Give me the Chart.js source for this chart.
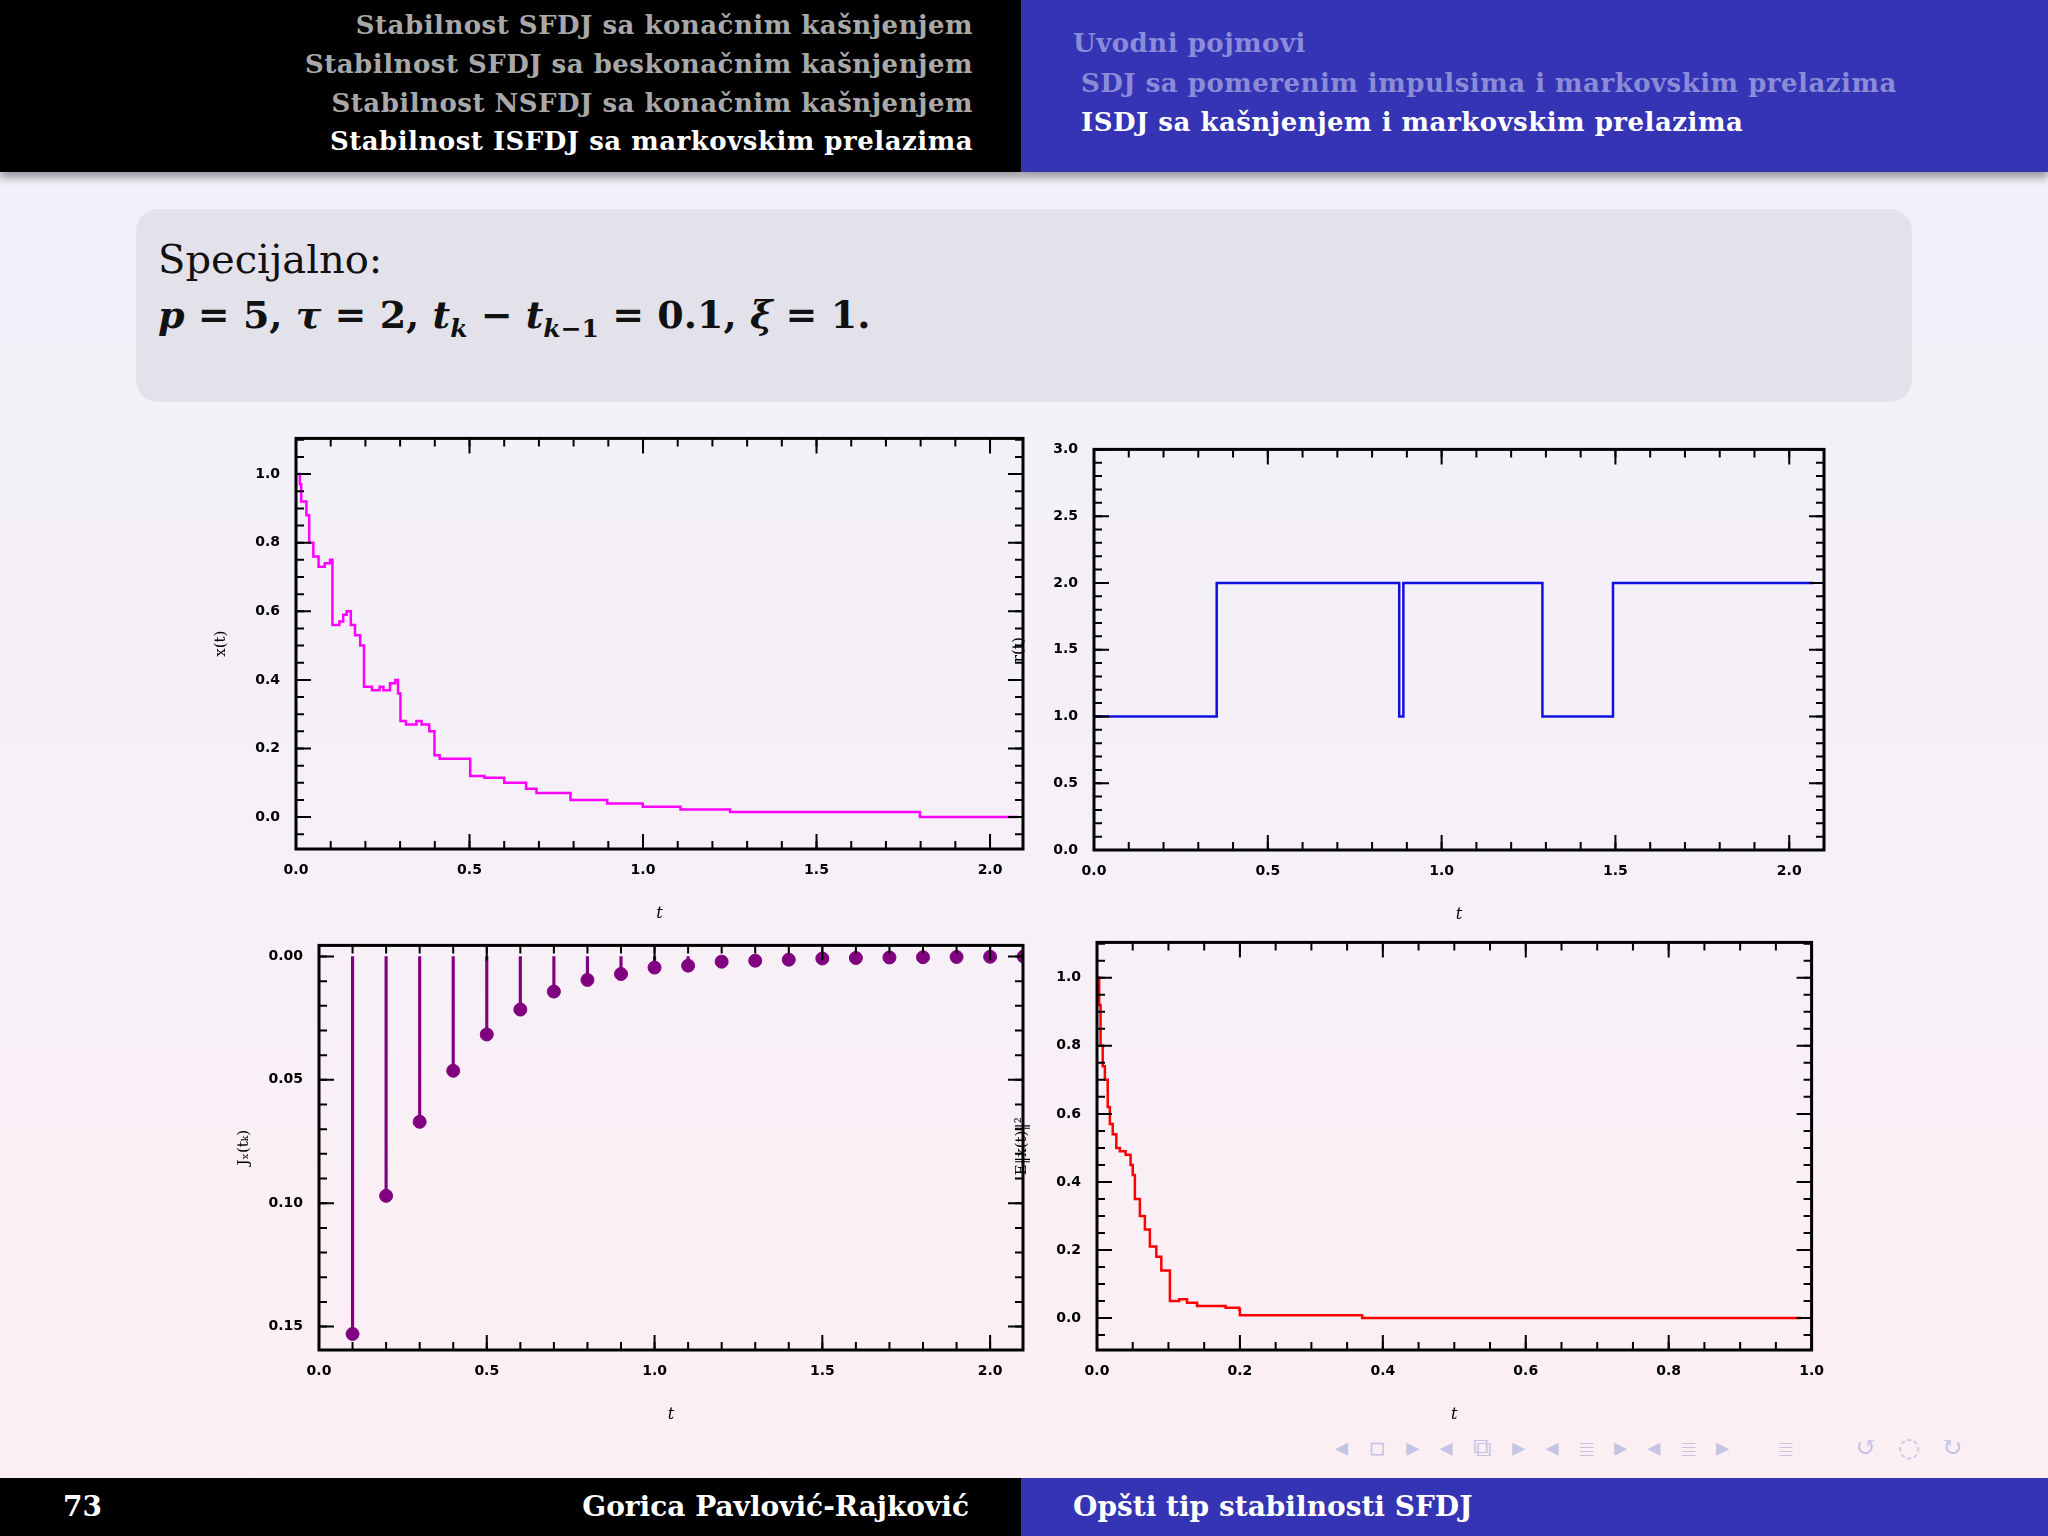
<!DOCTYPE html>
<html>
<head>
<meta charset="utf-8">
<script src="https://cdn.jsdelivr.net/npm/chart.js@4/dist/chart.umd.min.js"></script>
<style>
  html, body { margin: 0; padding: 0; }
  body { width: 2048px; height: 1536px; position: relative; overflow: hidden;
         background: linear-gradient(#f2f0f9, #f6f0f7 60%, #fdeff3); font-family: "DejaVu Serif", serif; }
  .hdr { position: absolute; top: 0; height: 172px; box-shadow: 0 6px 8px rgba(0,0,0,0.35); }
  .hl { left: 0; width: 1021px; background: #000; }
  .hr { left: 1021px; width: 1027px; background: #3434b4; }
  .ht { position: absolute; font-size: 26px; font-weight: bold; white-space: nowrap; letter-spacing: 0.5px; }
  .ftr { position: absolute; top: 1478px; height: 58px; }
  .ft { position: absolute; top: 1490px; font-size: 28px; font-weight: bold; color: #fff; white-space: nowrap; }
  .block { position: absolute; left: 136px; top: 209px; width: 1776px; height: 193px; background: #e3e1ea; border-radius: 22px; }
  .bt { position: absolute; left: 158px; font-size: 40px; color: #111; white-space: nowrap; }
  canvas { position: absolute; }
</style>
</head>
<body>
<div class="hdr hl"></div>
<div class="hdr hr"></div>
<div class="ht" style="right:1075px;top:10px;color:#a8a8a8">Stabilnost SFDJ sa konačnim kašnjenjem</div>
<div class="ht" style="right:1075px;top:49px;color:#a8a8a8">Stabilnost SFDJ sa beskonačnim kašnjenjem</div>
<div class="ht" style="right:1075px;top:88px;color:#a8a8a8">Stabilnost NSFDJ sa konačnim kašnjenjem</div>
<div class="ht" style="right:1075px;top:126px;color:#fff">Stabilnost ISFDJ sa markovskim prelazima</div>
<div class="ht" style="left:1073px;top:28px;color:#8b8bd8">Uvodni pojmovi</div>
<div class="ht" style="left:1081px;top:68px;color:#8b8bd8">SDJ sa pomerenim impulsima i markovskim prelazima</div>
<div class="ht" style="left:1081px;top:107px;color:#fff">ISDJ sa kašnjenjem i markovskim prelazima</div>

<div class="block"></div>
<div class="bt" style="top:236px">Specijalno:</div>
<div class="bt" style="top:292px;font-size:38px;font-weight:bold"><i>p</i> = 5, <i>τ</i> = 2, <i>t<sub style="font-size:25px">k</sub></i> − <i>t</i><sub style="font-size:25px"><i>k</i>−1</sub> = 0.1, <i>ξ</i> = 1.</div>

<canvas id="c1"></canvas>
<canvas id="c2"></canvas>
<canvas id="c3"></canvas>
<canvas id="c4"></canvas>

<div class="ftr" style="left:0;width:1021px;background:#000"></div>
<div class="ftr" style="left:1021px;width:1027px;background:#3434b4"></div>
<div class="ft" style="left:63px">73</div>
<div class="ft" style="right:1079px">Gorica Pavlović-Rajković</div>
<div class="ft" style="left:1073px">Opšti tip stabilnosti SFDJ</div>
<div style="position:absolute;left:1335px;top:1432px;font-size:26px;color:#c4c4e4;letter-spacing:6px;white-space:nowrap">◂ ▫ ▸ ◂ ⧉ ▸ ◂ ≣ ▸ ◂ ≣ ▸ &nbsp; ≣ &nbsp;&nbsp; ↺ ◌ ↻</div>

<script>
// x(t), top left
const xT = [0, 0.011, 0.015, 0.03, 0.038, 0.05, 0.065, 0.083, 0.098, 0.105, 0.125, 0.136, 0.146, 0.158, 0.17, 0.185, 0.196, 0.219, 0.241, 0.252, 0.271, 0.286, 0.294, 0.301, 0.317, 0.347, 0.362, 0.384, 0.399, 0.414, 0.502, 0.543, 0.60, 0.663, 0.693, 0.791, 0.897, 0.999, 1.108, 1.251, 1.798, 2.08];
const xVal = [1.0, 0.97, 0.92, 0.88, 0.80, 0.76, 0.73, 0.74, 0.75, 0.56, 0.57, 0.59, 0.60, 0.56, 0.53, 0.50, 0.38, 0.37, 0.38, 0.37, 0.39, 0.40, 0.36, 0.28, 0.27, 0.28, 0.27, 0.25, 0.18, 0.17, 0.12, 0.115, 0.10, 0.083, 0.07, 0.05, 0.04, 0.03, 0.022, 0.015, 0.0, 0.0];
// r(t), top right
const rT = [0, 0.353, 0.878, 0.89, 1.29, 1.493, 2.07];
const rVal = [1, 2, 1, 2, 1, 2, 2];
// J_x(t_k), bottom left
const jT = [0.1, 0.2, 0.3, 0.4, 0.5, 0.6, 0.7, 0.8, 0.9, 1.0, 1.1, 1.2, 1.3, 1.4, 1.5, 1.6, 1.7, 1.8, 1.9, 2.0, 2.1];
const jVal = [-0.153, -0.097, -0.067, -0.0463, -0.0316, -0.0215, -0.0142, -0.0095, -0.0071, -0.0045, -0.0037, -0.0021, -0.0017, -0.0013, -0.0008, -0.0006, -0.0004, -0.0003, -0.0002, -0.0001, 0];
// E||x(t)||^2, bottom right
const eT = [0, 0.003, 0.005, 0.008, 0.011, 0.015, 0.018, 0.022, 0.027, 0.032, 0.04, 0.047, 0.05, 0.053, 0.06, 0.067, 0.074, 0.083, 0.09, 0.099, 0.102, 0.115, 0.126, 0.14, 0.166, 0.18, 0.199, 0.20, 0.371, 0.985];
const eVal = [1.0, 0.92, 0.80, 0.74, 0.70, 0.62, 0.57, 0.54, 0.50, 0.49, 0.48, 0.45, 0.42, 0.35, 0.30, 0.26, 0.21, 0.18, 0.14, 0.14, 0.05, 0.055, 0.045, 0.035, 0.035, 0.03, 0.025, 0.008, 0.0, 0.0];

const tickFont = { family: 'DejaVu Sans', size: 14, weight: 'bold' };
const range = (a, b, s) => { const r = []; for (let v = a; v <= b + 1e-9; v += s) r.push(+v.toFixed(4)); return r; };

// frame and inward ticks on all four sides
const framePlugin = {
  id: 'frame',
  afterDatasetsDraw(chart, args, o) {
    const { ctx, chartArea: a, scales: { x, y } } = chart;
    ctx.save();
    ctx.strokeStyle = '#000';
    ctx.lineWidth = 2;
    const tk = (vals, len, axis) => vals.forEach(v => {
      if (axis === 'x') {
        const p = x.getPixelForValue(v); if (p < a.left - 0.5 || p > a.right + 0.5) return;
        ctx.beginPath(); ctx.moveTo(p, a.bottom); ctx.lineTo(p, a.bottom - len);
        ctx.moveTo(p, a.top); ctx.lineTo(p, a.top + len); ctx.stroke();
      } else {
        const p = y.getPixelForValue(v); if (p < a.top - 0.5 || p > a.bottom + 0.5) return;
        ctx.beginPath(); ctx.moveTo(a.left, p); ctx.lineTo(a.left + len, p);
        ctx.moveTo(a.right, p); ctx.lineTo(a.right - len, p); ctx.stroke();
      }
    });
    tk(o.xMinor, 8, 'x'); tk(o.xMajor, 15, 'x');
    tk(o.yMinor, 8, 'y'); tk(o.yMajor, 15, 'y');
    ctx.lineWidth = 3;
    ctx.strokeRect(a.left, a.top, a.right - a.left, a.bottom - a.top);
    ctx.restore();
  }
};

function place(id, l, t, w, h) {
  const c = document.getElementById(id);
  c.style.left = l + 'px'; c.style.top = t + 'px';
  c.style.width = w + 'px'; c.style.height = h + 'px';
  c.width = w; c.height = h;
  return c;
}

function makeChart(id, box, datasets, ax) {
  // box: plot area [left, top, right, bottom]
  const padL = 84, padB = 78, padT = 14, padR = 14;
  const c = place(id, box[0] - padL, box[1] - padT, box[2] - box[0] + padL + padR, box[3] - box[1] + padT + padB);
  new Chart(c, {
    data: { datasets },
    options: {
      responsive: false, animation: false,
      layout: { padding: { top: padT, right: padR, left: 0, bottom: 0 } },
      plugins: { legend: { display: false }, tooltip: { enabled: false },
        frame: { xMajor: ax.xMajor, xMinor: ax.xMinor, yMajor: ax.yMajor, yMinor: ax.yMinor } },
      scales: {
        x: { type: 'linear', min: ax.xMin, max: ax.xMax, offset: false,
          afterBuildTicks: s => { s.ticks = ax.xMajor.map(v => ({ value: v })); },
          afterFit: s => { s.height = padB; },
          grid: { display: false, offset: false }, border: { display: false },
          ticks: { font: tickFont, color: '#000', padding: 5, maxRotation: 0, callback: v => v.toFixed(1) },
          title: { display: true, text: 't', font: { family: 'DejaVu Serif', size: 16, style: 'italic' }, color: '#000', padding: { top: 12 } } },
        y: { type: 'linear', min: ax.yMin, max: ax.yMax,
          afterBuildTicks: s => { s.ticks = ax.yMajor.map(v => ({ value: v })); },
          afterFit: s => { s.width = padL; },
          grid: { display: false }, border: { display: false },
          ticks: { font: tickFont, color: '#000', padding: 8, callback: ax.yFmt },
          title: { display: true, text: ax.yTitle, font: { family: 'DejaVu Serif', size: 15 }, color: '#000', padding: 0 } }
      }
    },
    plugins: [framePlugin]
  });
}

const pts = (ts, vs) => ts.map((t, i) => ({ x: t, y: vs[i] }));

makeChart('c1', [296, 436, 1023, 849],
  [{ type: 'line', data: pts(xT, xVal), stepped: 'before', borderColor: '#ff00ff', borderWidth: 2.5, pointRadius: 0 }],
  { xMin: 0, xMax: 2.095, yMin: -0.093, yMax: 1.104, xMajor: range(0, 2, 0.5), xMinor: range(0, 2.1, 0.1),
    yMajor: range(0, 1, 0.2), yMinor: range(-0.05, 1.1, 0.05), yFmt: v => v.toFixed(1), yTitle: 'x(t)' });

makeChart('c2', [1094, 447, 1824, 850],
  [{ type: 'line', data: pts(rT, rVal), stepped: 'before', borderColor: '#1010e0', borderWidth: 2.5, pointRadius: 0 }],
  { xMin: 0, xMax: 2.1, yMin: 0, yMax: 3, xMajor: range(0, 2, 0.5), xMinor: range(0, 2.1, 0.1),
    yMajor: range(0, 3, 0.5), yMinor: range(0, 3, 0.1), yFmt: v => v.toFixed(1), yTitle: 'r(t)' });

makeChart('c3', [319, 943, 1023, 1350],
  [{ type: 'bar', data: jT.map((t, i) => ({ x: t, y: [0, jVal[i]] })), backgroundColor: '#800080', barThickness: 2.5 },
   { type: 'scatter', data: pts(jT, jVal), backgroundColor: '#800080', borderColor: '#800080', pointRadius: 6.5 }],
  { xMin: 0, xMax: 2.098, yMin: -0.1595, yMax: 0.0045, xMajor: range(0, 2, 0.5), xMinor: range(0, 2.1, 0.1),
    yMajor: [0, -0.05, -0.1, -0.15], yMinor: range(-0.15, 0, 0.01), yFmt: v => Math.abs(v).toFixed(2), yTitle: 'J\u2093(t\u2096)' });

makeChart('c4', [1097, 940, 1815, 1350],
  [{ type: 'line', data: pts(eT, eVal), stepped: 'before', borderColor: '#ff0000', borderWidth: 2.5, pointRadius: 0 }],
  { xMin: 0, xMax: 1.0, yMin: -0.094, yMax: 1.104, xMajor: range(0, 1, 0.2), xMinor: range(0, 1, 0.05),
    yMajor: range(0, 1, 0.2), yMinor: range(-0.05, 1.1, 0.05), yFmt: v => v.toFixed(1), yTitle: 'E‖x(t)‖²' });
</script>
</body>
</html>
